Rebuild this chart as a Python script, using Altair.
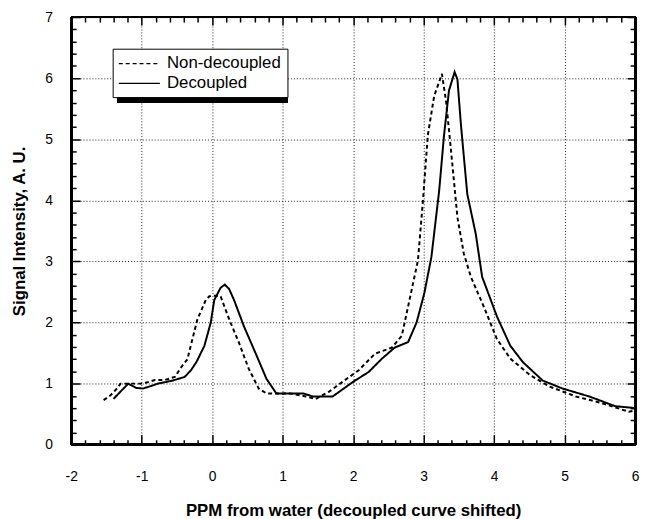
import altair as alt
import pandas as pd

# Decoupled (solid) curve
dec_x = [-1.40, -1.30, -1.19, -1.08, -0.98, -0.87, -0.77, -0.56, -0.39, -0.30, -0.22, -0.11,
         -0.02, 0.03, 0.12, 0.18, 0.24, 0.31, 0.45, 0.63, 0.77, 0.91, 1.29, 1.43, 1.71,
         2.00, 2.22, 2.41, 2.59, 2.78, 2.90, 3.01, 3.11, 3.22, 3.29, 3.36, 3.44, 3.48,
         3.53, 3.62, 3.74, 3.83, 4.04, 4.23, 4.41, 4.69, 4.97, 5.35, 5.72, 6.00]
dec_y = [0.75, 0.87, 1.00, 0.93, 0.92, 0.96, 1.00, 1.05, 1.11, 1.22, 1.36, 1.62,
         2.00, 2.37, 2.57, 2.62, 2.55, 2.37, 1.94, 1.46, 1.08, 0.84, 0.84, 0.79, 0.79,
         1.03, 1.19, 1.41, 1.59, 1.68, 2.00, 2.48, 3.07, 4.15, 5.07, 5.80, 6.10, 5.98,
         5.23, 4.10, 3.45, 2.75, 2.10, 1.62, 1.35, 1.05, 0.92, 0.79, 0.63, 0.60]

# Non-decoupled (dashed) curve
non_x = [-1.54, -1.45, -1.35, -1.30, -1.15, -0.98, -0.81, -0.67, -0.53, -0.42, -0.35, -0.33,
         -0.21, -0.09, -0.04, 0.05, 0.12, 0.19, 0.26, 0.38, 0.52, 0.66, 0.77, 1.10, 1.33,
         1.47, 1.66, 1.85, 2.08, 2.31, 2.55, 2.69, 2.80, 2.92, 2.99, 3.06, 3.15, 3.26,
         3.32, 3.39, 3.48, 3.57, 3.67, 3.85, 4.04, 4.23, 4.51, 4.79, 5.16, 5.53, 5.91, 6.00]
non_y = [0.73, 0.80, 0.92, 1.00, 1.00, 1.00, 1.06, 1.06, 1.11, 1.30, 1.40, 1.50,
         2.05, 2.37, 2.43, 2.44, 2.43, 2.21, 2.00, 1.67, 1.24, 0.92, 0.84, 0.84, 0.79,
         0.75, 0.87, 1.03, 1.22, 1.49, 1.59, 1.78, 2.37, 3.02, 3.99, 5.07, 5.71, 6.07,
         5.61, 4.80, 3.72, 3.13, 2.75, 2.27, 1.73, 1.41, 1.14, 0.95, 0.79, 0.68, 0.54, 0.56]

series_names = ["Non-decoupled", "Decoupled"]

x_major = [-2, -1, 0, 1, 2, 3, 4, 5, 6]
y_major = [0, 1, 2, 3, 4, 5, 6, 7]
x_minor = [round(-2 + 0.2 * i, 1) for i in range(41)]
y_minor = [round(0.2 * i, 1) for i in range(36)]

df = pd.concat([
    pd.DataFrame({"x": non_x, "y": non_y, "series": series_names[0]}),
    pd.DataFrame({"x": dec_x, "y": dec_y, "series": series_names[1]}),
])

W, H = 571, 433
FONT = "Liberation Sans"
xscale = alt.Scale(domain=[-2, 6], nice=False, zero=False)
yscale = alt.Scale(domain=[0, 7], nice=False, zero=False)

IS_MINOR = "datum.value % 1 !== 0"
MINOR_DASH = {"condition": {"test": IS_MINOR, "value": [5, 30]}, "value": [1, 0]}
GRID_OPACITY = {"condition": {"test": IS_MINOR, "value": 0}, "value": 1}
LABEL_EXPR = "datum.value % 1 === 0 ? datum.value + '' : ''"

main = alt.Chart(df).mark_line(strokeWidth=2, color="black").encode(
    x=alt.X("x:Q", scale=xscale, axis=alt.Axis(
        orient="bottom", values=x_minor, grid=True, gridDash=[1, 2], gridColor="#222",
        gridWidth=1, gridOpacity=GRID_OPACITY,
        ticks=True, tickSize={"expr": "-10"}, tickDash=MINOR_DASH, tickWidth=1.5,
        tickColor="black", domain=False, labelPadding=35, labelFontSize=14,
        labelFont=FONT, labelColor="black", labelExpr=LABEL_EXPR, labelOverlap=False,
        labelFlush=False,
        title="PPM from water (decoupled curve shifted)", titleFont=FONT,
        titleFontSize=17, titleFontWeight="bold", titleColor="black", titlePadding=20)),
    y=alt.Y("y:Q", scale=yscale, axis=alt.Axis(
        orient="left", values=y_minor, grid=True, gridDash=[1, 2], gridColor="#222",
        gridWidth=1, gridOpacity=GRID_OPACITY,
        ticks=True, tickSize={"expr": "-9"}, tickDash=MINOR_DASH, tickWidth=1.5,
        tickColor="black", domain=False, labelPadding=28, labelFontSize=14,
        labelFont=FONT, labelColor="black", labelExpr=LABEL_EXPR, labelOverlap=False,
        labelFlush=False,
        title="Signal Intensity, A. U.", titleFont=FONT, titleFontSize=17,
        titleFontWeight="bold", titleColor="black", titlePadding=16)),
    strokeDash=alt.StrokeDash(
        "series:N", scale=alt.Scale(domain=series_names, range=[[4, 3], [1, 0]]),
        legend=alt.Legend(title=None, orient="none", legendX=42, legendY=32,
                          fillColor="white", strokeColor="black", padding=6,
                          labelFont=FONT, labelFontSize=17, labelColor="black",
                          symbolType="M-2.6,0H2.6", symbolSize=256, symbolStrokeWidth=1.3,
                          symbolStrokeColor="black", symbolOffset=12, labelOffset=19,
                          rowPadding=3)),
    order=alt.Order("x:Q"),
)

# invisible layer that carries the tick marks on the top and right edges
opposite = alt.Chart(df).mark_line(strokeOpacity=0).encode(
    x=alt.X("x:Q", scale=xscale, axis=alt.Axis(
        orient="top", values=x_minor, grid=False, labels=False, domain=False, title=None,
        ticks=True, tickSize={"expr": "-8"}, tickDash=MINOR_DASH, tickWidth=1.5,
        tickColor="black")),
    y=alt.Y("y:Q", scale=yscale, axis=alt.Axis(
        orient="right", values=y_minor, grid=False, labels=False, domain=False, title=None,
        ticks=True, tickSize={"expr": "-8"}, tickDash=MINOR_DASH, tickWidth=1.5,
        tickColor="black")),
    detail="series:N",
)

shadow = alt.Chart(df).mark_rect(color="black").encode(
    x=alt.value(47), x2=alt.value(219), y=alt.value(37), y2=alt.value(87))


def frame_side(x0, x1, y0, y1):
    return alt.Chart(df).mark_rule(color="black", strokeWidth=2).encode(
        x=alt.value(x0), x2=alt.value(x1), y=alt.value(y0), y2=alt.value(y1))


layers = [
    shadow,
    frame_side(0, W, 0, 0), frame_side(0, W, H, H),
    frame_side(0, 0, 0, H), frame_side(W, W, 0, H),
    main,
    opposite,
]

chart = alt.layer(*layers).resolve_axis(x="independent", y="independent").properties(
    width=W, height=H,
    autosize=alt.AutoSizeParams(type="none"),
    padding={"left": 64, "top": 6, "right": 5, "bottom": 72},
).configure(background="white")

chart.save("out.html", embed_options={"renderer": "svg", "actions": False})
